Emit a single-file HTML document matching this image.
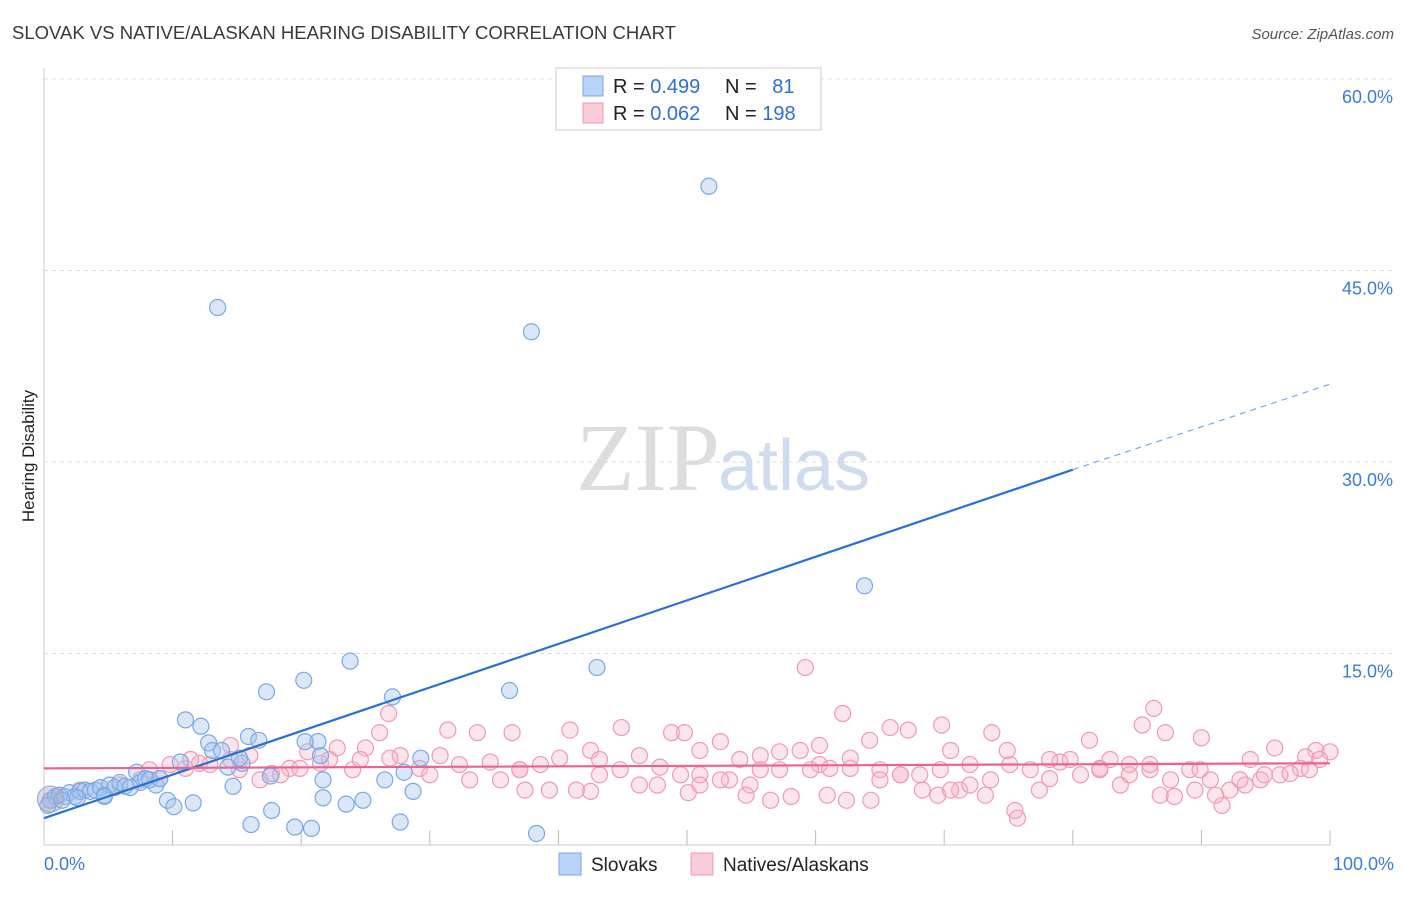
<!DOCTYPE html>
<html><head><meta charset="utf-8"><style>
body{margin:0;background:#fff;font-family:"Liberation Sans",sans-serif}
</style></head><body>
<svg id="chart" width="1406" height="892" xmlns="http://www.w3.org/2000/svg">
<text x="12" y="39" font-size="18" fill="#3a3a3a" textLength="664" lengthAdjust="spacingAndGlyphs">SLOVAK VS NATIVE/ALASKAN HEARING DISABILITY CORRELATION CHART</text>
<text x="1394" y="39" font-size="15" fill="#555" font-style="italic" text-anchor="end">Source: ZipAtlas.com</text>
<text x="34" y="456" font-size="17" fill="#222" transform="rotate(-90 34 456)" text-anchor="middle">Hearing Disability</text>
<text x="720" y="490" font-size="96" fill="#ddd" font-family="Liberation Serif,serif" text-anchor="end">ZIP</text>
<text x="718" y="490" font-size="72" fill="#cfdcf0">atlas</text>
<g id="grid"></g><g id="pts"></g><g id="lines"></g>
<g>
<rect x="556" y="68" width="265" height="62" fill="#fff" stroke="#ccc"/>
<rect x="583" y="76" width="20" height="20" fill="#b8d3f5" stroke="#7aa9e6"/>
<rect x="583" y="103" width="20" height="20" fill="#fbcbd9" stroke="#ef9ab5"/>
<text x="613" y="93" font-size="20" fill="#222">R = <tspan fill="#2e6fd6">0.499</tspan></text>
<text x="725" y="93" font-size="20" fill="#222">N = <tspan fill="#2e6fd6" dx="10">81</tspan></text>
<text x="613" y="120" font-size="20" fill="#222">R = <tspan fill="#2e6fd6">0.062</tspan></text>
<text x="725" y="120" font-size="20" fill="#222">N = <tspan fill="#2e6fd6">198</tspan></text>
</g>
<g>
<rect x="559" y="853" width="22" height="22" fill="#b8d3f5" stroke="#7aa9e6"/>
<text x="591" y="871" font-size="19" fill="#222">Slovaks</text>
<rect x="691" y="853" width="22" height="22" fill="#fbcbd9" stroke="#ef9ab5"/>
<text x="723" y="871" font-size="19" fill="#222">Natives/Alaskans</text>
</g>
</svg>
<script>
const yTicks=[15,30,45,60];
const xTickLabels=["0.0%","100.0%"];
const blueX=[51.7,13.5,37.9,63.8,23.8,43.0,17.3,20.2,27.1,36.2,11.0,12.2,12.8,15.9,16.7,13.1,13.8,10.6,7.2,21.3,20.3,15.4,14.3,17.6,21.7,26.5,28.0,29.3,28.7,21.7,23.5,24.8,9.6,11.6,10.1,17.7,16.1,19.5,20.8,27.7,38.3,14.7,8.7,7.5,0.5,0.9,1.2,1.6,2.0,2.4,2.8,3.2,3.6,4.0,4.4,4.7,5.1,5.5,5.9,6.3,6.7,7.9,8.2,9.0,4.7,0.3,1.4,2.6,21.5,15.2];
const blueY=[51.6,42.1,40.2,20.3,14.4,13.9,12.0,12.9,11.6,12.1,9.8,9.3,8.0,8.5,8.2,7.4,7.4,6.5,5.7,8.1,8.1,6.4,6.1,5.4,5.1,5.1,5.7,6.8,4.2,3.7,3.2,3.5,3.5,3.3,3.0,2.7,1.6,1.4,1.3,1.8,0.9,4.6,4.7,4.9,3.5,3.8,3.9,3.8,4.1,3.8,4.2,4.3,4.2,4.3,4.5,3.9,4.7,4.5,4.9,4.6,4.5,5.2,5.1,5.2,3.8,3.1,3.5,3.7,7.0,6.8];
const pinkX=[59.2,86.3,26.8,62.1,44.9,40.9,31.4,33.7,36.4,48.8,49.8,65.8,67.2,69.8,85.4,87.2,73.7,90.0,95.7,98.9,100,98.1,26.1,25.0,22.8,20.5,16.0,14.5,12.1,11.0,9.0,7.5,5.9,4.4,2.8,1.2,0.5,14.5,17.7,19.1,21.5,24.0,27.7,29.2,30.8,32.3,34.7,37.0,38.6,40.1,42.5,43.2,44.8,46.3,47.9,49.5,51.0,52.6,54.1,55.7,57.2,58.8,60.3,62.7,64.2,65.0,66.6,68.1,70.5,72.0,73.6,75.1,76.7,78.2,79.0,80.6,81.3,82.1,82.9,84.4,86.0,87.6,89.1,90.7,92.2,93.4,94.6,96.1,97.7,99.2,75.5,75.7,91.6,62.4,64.3,60.9,58.1,56.5,54.9,54.6,53.3,47.7,50.1,42.5,41.4,39.3,37.4,68.3,69.5,71.2,73.2,77.4,83.7,86.8,87.9,89.5,91.1,93.0,94.9,96.9,33.1,35.5,37.0,30.0,26.9,24.6,22.2,19.9,18.4,16.8,15.2,12.9,11.4,9.8,8.2,43.2,46.3,51.0,52.6,57.2,60.3,62.7,65.0,66.6,70.5,72.0,74.9,78.2,79.8,82.1,84.4,86.0,89.9,93.8,98.4,69.7,51.0,59.6,61.1,55.7];
const pinkY=[13.9,10.7,10.3,10.3,9.2,9.0,9.0,8.8,8.8,8.8,8.8,9.2,9.0,9.4,9.4,8.8,8.8,8.4,7.6,7.4,7.3,6.9,8.8,7.6,7.6,7.3,7.0,6.7,6.4,6.0,5.2,5.1,4.7,4.5,4.3,3.9,3.5,7.8,5.6,6.0,6.4,5.9,7.0,6.0,7.0,6.3,6.5,5.9,6.3,6.8,7.4,6.7,5.9,7.0,6.1,5.5,7.4,8.1,6.7,7.0,7.3,7.4,7.8,6.0,8.2,5.9,5.5,5.5,7.4,6.3,5.1,6.3,5.9,5.2,6.5,5.5,8.2,6.0,6.7,6.3,5.9,5.1,5.9,5.1,4.3,4.7,5.1,5.5,6.0,6.7,2.7,2.1,3.1,3.5,3.5,3.9,3.8,3.5,4.7,3.9,5.1,4.7,4.1,4.2,4.3,4.3,4.3,4.3,3.9,4.3,3.9,4.3,4.7,3.9,3.8,4.3,3.9,5.1,5.5,5.6,5.1,5.1,5.9,5.5,6.8,6.7,6.7,6.0,5.5,5.1,5.9,6.3,6.7,6.3,5.9,5.5,4.7,5.5,5.1,5.9,6.3,6.8,5.1,5.5,4.3,4.7,7.4,6.7,6.7,5.9,5.5,6.3,5.9,6.7,5.9,5.9,4.7,5.9,6.0,5.9,4.3,6.3,6.7,5.9];
const blueTrend=[2.1,29.4,36.1]; // at x=0, x=80, x=100
const pinkTrend=[6.0,6.4];
const NS="http://www.w3.org/2000/svg";
const X0=44,X1=1330,Y0=845,Ypx=191.5/15;
const sx=v=>X0+(X1-X0)*v/100, sy=v=>Y0-v*Ypx;
function mk(tag,a,parent){const e=document.createElementNS(NS,tag);for(const k in a)e.setAttribute(k,a[k]);parent.appendChild(e);return e;}
const grid=document.getElementById('grid');
mk('line',{x1:44,y1:68,x2:44,y2:845,stroke:'#ccc'},grid);
mk('line',{x1:44,y1:845,x2:1330,y2:845,stroke:'#ccc'},grid);
for(const t of yTicks){
 const g=mk('line',{x1:44,x2:1394,y1:sy(t),y2:sy(t),stroke:'#ddd','stroke-dasharray':'4 4'},grid);
 
 
 const l=mk('text',{x:1393,y:sy(t)+24,'font-size':18,fill:'#3b7bd9','text-anchor':'end'},grid);
 l.textContent=t.toFixed(1)+'%';
 
 
}
for(let i=1;i<=10;i++){mk('line',{x1:sx(i*10),x2:sx(i*10),y1:830,y2:845,stroke:'#bbb'},grid);}
const xl0=mk('text',{x:44,y:870,'font-size':18,fill:'#3b7bd9'},grid);xl0.textContent=xTickLabels[0];


const xl1=mk('text',{x:1394,y:870,'font-size':18,fill:'#3b7bd9','text-anchor':'end'},grid);xl1.textContent=xTickLabels[1];


const pts=document.getElementById('pts');
pinkX.forEach((x,i)=>{const c=mk('circle',{cx:sx(x),cy:sy(pinkY[i]),r:8,fill:'rgba(248,180,200,0.35)',stroke:'#ef9ab5','stroke-width':1.2},pts);
 
 });
blueX.forEach((x,i)=>{const c=mk('circle',{cx:sx(x),cy:sy(blueY[i]),r:8,fill:'rgba(160,196,240,0.4)',stroke:'#7aa9e6','stroke-width':1.2},pts);
 
 });
const big=mk('circle',{cx:sx(0.5),cy:sy(3.6),r:13,fill:'rgba(160,170,200,0.4)',stroke:'#aab','stroke-width':1.2},pts);


const lines=document.getElementById('lines');
const bl=mk('line',{x1:sx(0),y1:sy(blueTrend[0]),x2:sx(80),y2:sy(blueTrend[1]),stroke:'#2a6fd6','stroke-width':2.2},lines);


const bd=mk('line',{x1:sx(80),y1:sy(blueTrend[1]),x2:sx(100),y2:sy(blueTrend[2]),stroke:'#7aa9e6','stroke-width':1.2,'stroke-dasharray':'6 5'},lines);


const pl=mk('line',{x1:sx(0),y1:sy(pinkTrend[0]),x2:sx(100),y2:sy(pinkTrend[1]),stroke:'#e8638f','stroke-width':2.2},lines);


</script>
</body></html>
